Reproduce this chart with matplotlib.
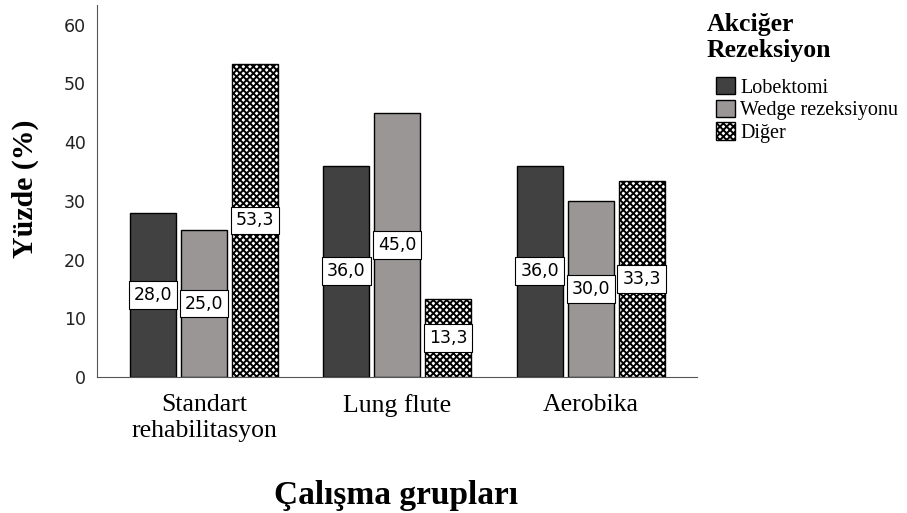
import matplotlib
matplotlib.use("Agg")
import matplotlib.pyplot as plt
import numpy as np
from matplotlib.patches import Patch

groups = ["Standart\nrehabilitasyon", "Lung flute", "Aerobika"]
series = ["Lobektomi", "Wedge rezeksiyonu", "Diğer"]
lobektomi = [28.0, 36.0, 36.0]
wedge = [25.0, 45.0, 30.0]
diger = [53.3, 13.3, 33.3]
yticks = [0, 10, 20, 30, 40, 50, 60]

values = [lobektomi, wedge, diger]
colors = ["#414141", "#9b9696", "white"]
hatches = [None, None, "xxxxx"]

plt.rcParams['hatch.linewidth'] = 1.4
fig = plt.figure(figsize=(9.07, 5.13), dpi=100)
ax = fig.add_axes([0.107, 0.265, 0.661, 0.725])

x = np.arange(len(groups))
off = 0.2636
w = 0.238
for i, (vals, c, h) in enumerate(zip(values, colors, hatches)):
    pos = x + (i - 1) * off
    ax.bar(pos, vals, width=w, color=c, edgecolor="black", linewidth=1.0,
           hatch=h, zorder=2)
    for p, v in zip(pos, vals):
        ax.text(p, v / 2, f"{v:.1f}".replace(".", ","), ha="center", va="center",
                fontsize=12.5, family="DejaVu Sans", color="black", zorder=5,
                bbox=dict(boxstyle="square,pad=0.28", facecolor="white",
                          edgecolor="black", linewidth=0.8))

ax.set_xlim(-0.553, 2.548)
ax.set_ylim(0, 63.3)
ax.set_yticks(yticks)
ax.set_xticks(x)
ax.set_xticklabels(groups, family="Liberation Serif", fontsize=18.5, linespacing=1.25)
ax.tick_params(axis="y", length=0, labelsize=12.5, colors="#222222", pad=8)
ax.tick_params(axis="x", length=0, pad=12)
for s in ["top", "right"]:
    ax.spines[s].set_visible(False)
ax.spines["left"].set_color("#555555")
ax.spines["bottom"].set_color("#555555")

fig.text(0.028, 0.633, "Yüzde (%)", family="Liberation Serif", fontweight="bold",
         fontsize=21.5, rotation=90, ha="center", va="center")
fig.text(0.437, 0.035, "Çalışma grupları", family="Liberation Serif", fontweight="bold",
         fontsize=24, ha="center", va="center")

fig.text(707 / 907, 1 - 13 / 513, "Akciğer\nRezeksiyon", family="Liberation Serif",
         fontweight="bold", fontsize=18.5, ha="left", va="top", linespacing=1.15)

handles = [Patch(facecolor=c, edgecolor="black", hatch=h, linewidth=1.0)
           for c, h in zip(colors, hatches)]
leg = fig.legend(handles, series, loc="upper left", bbox_to_anchor=(716 / 907, 1 - 77 / 513),
                 frameon=False, prop={"family": "Liberation Serif", "size": 14.5},
                 handlelength=0.95, handleheight=0.95, handletextpad=0.25, labelspacing=0.1,
                 borderaxespad=0, borderpad=0)

fig.savefig("out.png", dpi=100)
